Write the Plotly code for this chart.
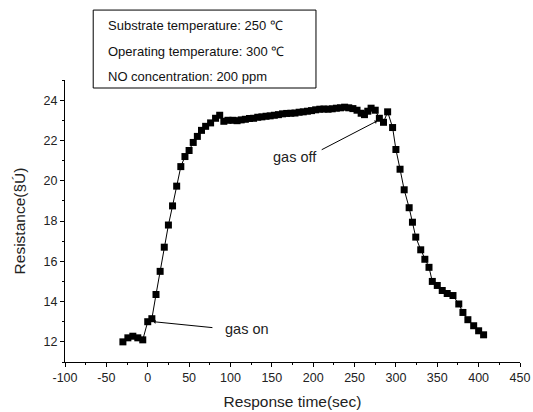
import plotly.graph_objects as go

time_s = [-30, -24, -18, -12, -6, 0, 5, 10, 15, 20, 25, 30, 35, 40, 45, 50, 55, 60, 65, 70,
          76, 82, 87, 92, 97, 103, 108, 113, 118, 123, 128, 133, 138, 143, 148, 153, 158, 163,
          168, 173, 178, 183, 188, 193, 198, 203, 208, 213, 218, 223, 228, 233, 238, 243, 248,
          253, 258, 262, 266, 270, 275, 280, 285, 290, 296, 300, 305, 310, 316, 320, 324, 330,
          335, 340, 344, 350, 356, 362, 369, 376, 381, 387, 394, 400, 406]
resistance = [12.0, 12.2, 12.28, 12.2, 12.1, 13.0, 13.15, 14.35, 15.5, 16.7, 17.8, 18.75, 19.73,
              20.7, 21.2, 21.5, 21.9, 22.2, 22.5, 22.7, 22.87, 23.1, 23.25, 22.95, 23.0, 23.0,
              22.98, 23.02, 23.05, 23.09, 23.1, 23.15, 23.17, 23.2, 23.22, 23.25, 23.28, 23.32,
              23.34, 23.35, 23.36, 23.4, 23.42, 23.45, 23.48, 23.52, 23.55, 23.56, 23.55, 23.57,
              23.6, 23.62, 23.65, 23.62, 23.58, 23.5, 23.35, 23.28, 23.45, 23.6, 23.5, 23.1, 22.9,
              23.42, 22.64, 21.55, 20.57, 19.55, 18.66, 17.94, 17.2, 16.57, 16.1, 15.7, 15.0, 14.8,
              14.55, 14.4, 14.3, 13.88, 13.46, 13.1, 12.8, 12.55, 12.35]

x_ticks = [-100, -50, 0, 50, 100, 150, 200, 250, 300, 350, 400, 450]
y_ticks = [12, 14, 16, 18, 20, 22, 24]
info_lines = ["Substrate temperature: 250 \u2103",
              "Operating temperature: 300 \u2103",
              "NO concentration: 200 ppm"]

FONT = "Liberation Sans, Arial, sans-serif"

fig = go.Figure()
fig.add_trace(go.Scatter(
    x=time_s, y=resistance, mode="lines+markers",
    line=dict(color="black", width=1),
    marker=dict(symbol="square", size=7, color="black"),
    showlegend=False,
))

axis_common = dict(
    showline=True, linecolor="black", linewidth=1, mirror=False, automargin=False,
    showgrid=False, zeroline=False, ticks="outside", ticklen=4, tickwidth=1,
    tickcolor="black", tickfont=dict(family=FONT, size=12.5, color="#222"),
)

fig.update_xaxes(
    range=[-100, 450], tickvals=x_ticks, ticktext=[str(v) for v in x_ticks],
    minor=dict(dtick=25, tick0=0, ticks="outside", ticklen=2, tickcolor="black"),
    title=dict(text="Response time(sec)", font=dict(family=FONT, size=15.5, color="#222"), standoff=12),
    **axis_common,
)
fig.update_yaxes(
    range=[11, 25], tickvals=y_ticks, ticktext=[str(v) for v in y_ticks],
    minor=dict(dtick=1, tick0=0, ticks="outside", ticklen=2, tickcolor="black"),
    title=dict(text="Resistance(§Ú)", font=dict(family=FONT, size=15.5, color="#222"), standoff=14),
    **axis_common,
)

# info box
fig.add_shape(type="rect", xref="paper", yref="paper",
              x0=0.062, x1=0.5516, y0=0.9716, y1=1.248,
              line=dict(color="black", width=1), fillcolor="white", layer="above")
for line_txt, yy in zip(info_lines, [1.195, 1.1004, 1.0117]):
    fig.add_annotation(text=line_txt, xref="paper", yref="paper", x=0.09, y=yy,
                       xanchor="left", yanchor="middle", showarrow=False,
                       font=dict(family=FONT, size=13, color="#111"))

# gas on / gas off annotations
fig.add_annotation(x=7, y=13.0, ax=80, ay=12.7, xref="x", yref="y", axref="x", ayref="y",
                   text="", showarrow=True, arrowhead=1, arrowsize=0.7, arrowwidth=1,
                   arrowcolor="black")
fig.add_annotation(x=91, y=12.63, xref="x", yref="y", text="gas on", showarrow=False,
                   xanchor="left", yanchor="middle",
                   font=dict(family=FONT, size=14.5, color="#222"))
fig.add_annotation(x=277, y=22.96, ax=208.5, ay=21.5, xref="x", yref="y", axref="x", ayref="y",
                   text="", showarrow=True, arrowhead=1, arrowsize=0.7, arrowwidth=1,
                   arrowcolor="black")
fig.add_annotation(x=207, y=21.17, xref="x", yref="y", text="gas off", showarrow=False,
                   xanchor="right", yanchor="middle",
                   font=dict(family=FONT, size=14.5, color="#222"))

fig.update_layout(
    width=533, height=412,
    margin=dict(l=65, r=13, t=80, b=50),
    paper_bgcolor="white", plot_bgcolor="white",
    font=dict(family=FONT),
)

fig.write_html("out.html", config={"displayModeBar": False},
               post_script="document.body.style.margin='0';document.body.style.overflow='hidden';")
